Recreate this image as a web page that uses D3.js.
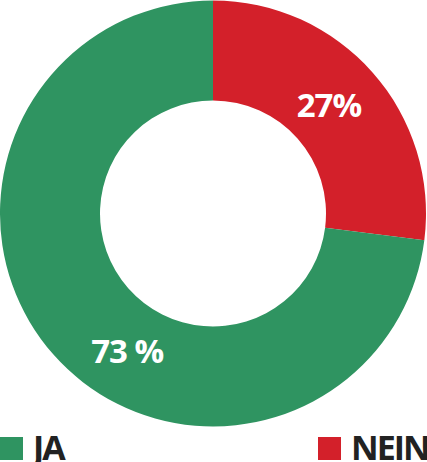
<!DOCTYPE html>
<html><head><meta charset="utf-8">
<script src="https://cdn.jsdelivr.net/npm/d3@7"></script>
<style>html,body{margin:0;padding:0;background:#fff;}svg{display:block;}</style>
</head><body>
<script>
const categories = ["NEIN", "JA"];
const values = [27, 73];
const labels = ["27%", "73 %"];
const colors = ["#d3202a", "#2f9461"];

const W = 427, H = 462;
const cx = 213, cy = 213.5, R = 213, r = 113;
const svg = d3.select("body").append("svg").attr("width", W).attr("height", H);
const color = d3.scaleOrdinal().domain(categories).range(colors);
const pie = d3.pie().sort(null).value(d => d.v);
const data = categories.map((c, i) => ({c, v: values[i], l: labels[i]}));
const arcs = pie(data);
const arc = d3.arc().innerRadius(r).outerRadius(R);
const g = svg.append("g").attr("transform", `translate(${cx},${cy})`);
g.selectAll("path").data(arcs).enter().append("path")
  .attr("d", arc).attr("fill", d => color(d.data.c));
// label placement: radius and angular shift (degrees) per slice
const labelR = [159, 162];
const angShift = [-1.8, -16.6];
g.selectAll("text").data(arcs).enter().append("text")
  .attr("transform", (d, i) => {
    const a = (d.startAngle + d.endAngle) / 2 + angShift[i] * Math.PI / 180;
    return `translate(${labelR[i] * Math.sin(a)},${-labelR[i] * Math.cos(a)})`;
  })
  .attr("text-anchor", "middle").attr("dominant-baseline", "central")
  .attr("fill", "#fff").attr("font-family", "Open Sans").attr("font-weight", 700)
  .attr("font-size", 33).attr("letter-spacing", -1)
  .text(d => d.data.l);

// legend
const legendItems = [{c: "JA", x: 0}, {c: "NEIN", x: 318}];
const lg = svg.append("g");
legendItems.forEach(it => {
  lg.append("rect").attr("x", it.x).attr("y", 437).attr("width", 23).attr("height", 23).attr("fill", color(it.c));
  lg.append("text").attr("x", it.x + 33).attr("y", 460).attr("font-family", "Open Sans")
    .attr("font-weight", 700).attr("font-size", 34).attr("letter-spacing", -2).attr("fill", "#222").text(it.c);
});
</script>
</body></html>
